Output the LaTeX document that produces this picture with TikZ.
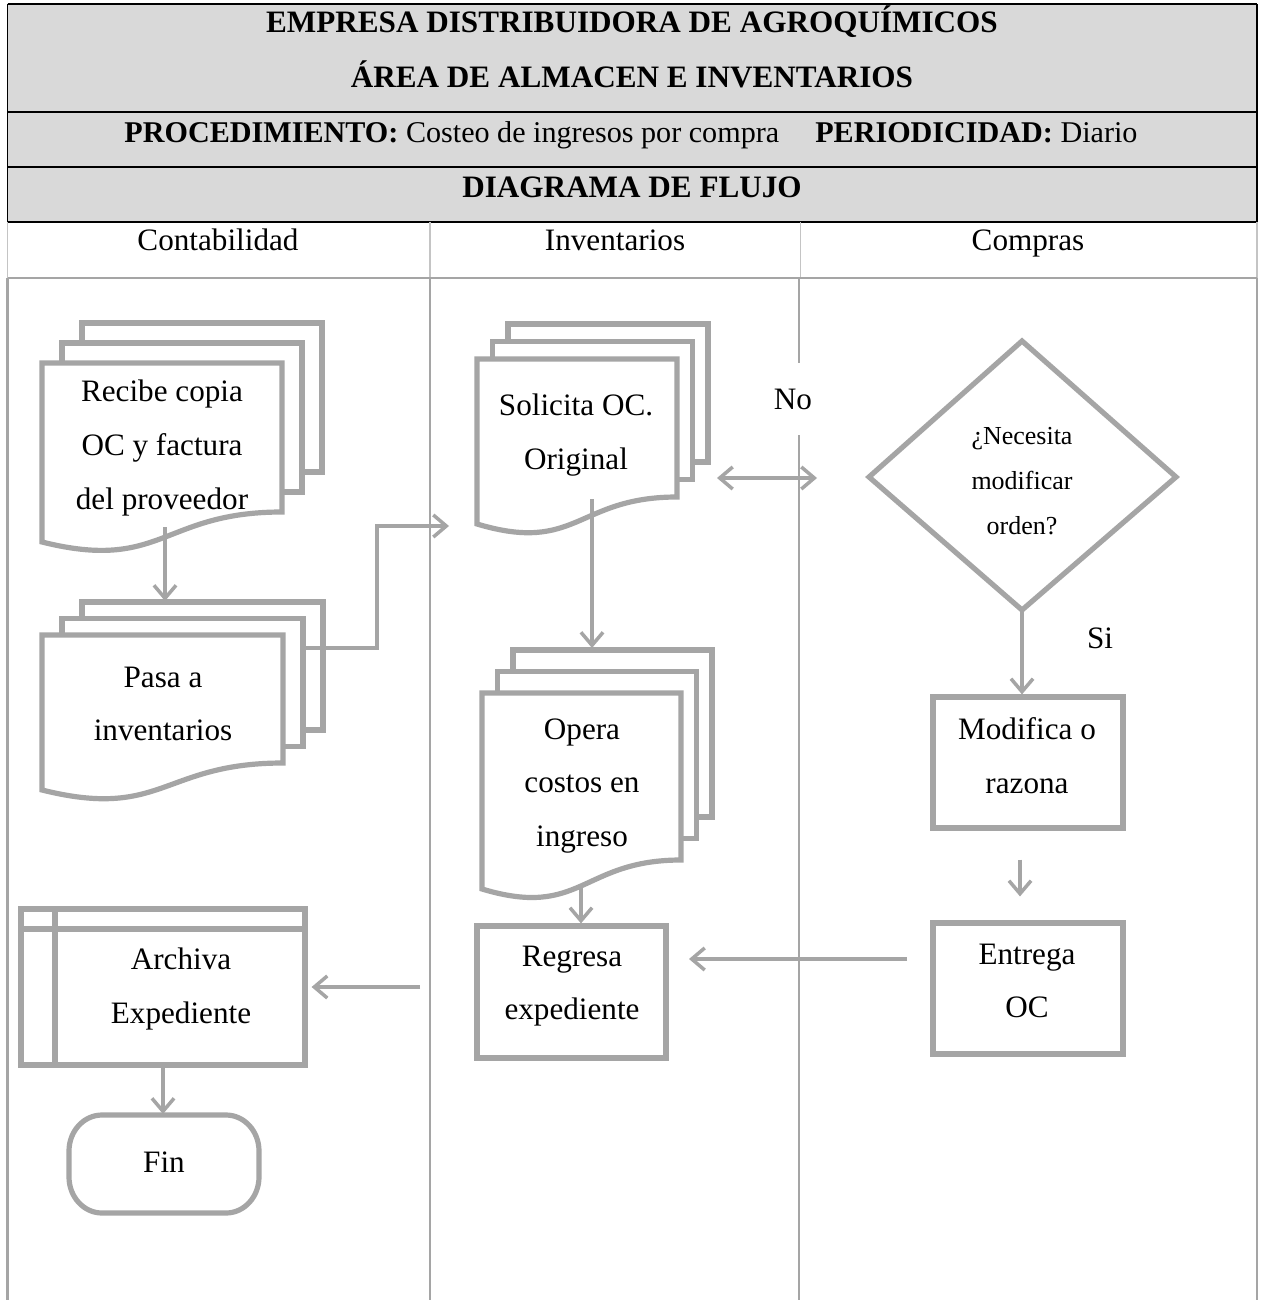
\documentclass[tikz,border=0pt]{standalone}
\usepackage{fontspec}
\setmainfont{Liberation Serif}
\usetikzlibrary{arrows.meta}

\definecolor{shapegray}{HTML}{A5A5A5}
\definecolor{headfill}{HTML}{D9D9D9}
\definecolor{lanelight}{HTML}{C4C4C4}

% one drawing unit in pt
\newcommand\pxu{0.385pt}

% stacked documents: left, top, right, right-bottom, left-bottom, dx, dy
\newcommand\multidoc[7]{%
  \draw[shapeline] (#1+2*#6, #2-#7) -- (#1+2*#6, #2-2*#7) -- (#3+2*#6, #2-2*#7)
        -- (#3+2*#6, #4-2*#7) -- (#3+#6, #4-2*#7);
  \draw[shapeline] (#1+#6, #2) -- (#1+#6, #2-#7) -- (#3+#6, #2-#7)
        -- (#3+#6, #4-#7) -- (#3, #4-#7);
  \draw[shapeline] (#1, #2) -- (#3, #2) -- (#3, #4)
        .. controls ({(#1+#3)/2}, #4) and ({(#1+#3)/2}, #5+30) .. (#1, #5) -- cycle;
}

\begin{document}
\begin{tikzpicture}[x=0.385pt, y=-0.385pt,
  shapeline/.style={draw=shapegray, line width=2pt, line join=miter},
  arr/.style={draw=shapegray, line width=1.35pt, -{Straight Barb[length=5pt,width=8.5pt]}},
  dbl/.style={draw=shapegray, line width=1.35pt,
    {Straight Barb[length=5pt,width=8.5pt]}-{Straight Barb[length=5pt,width=8.5pt]}},
  txt/.style={font=\fontsize{12}{20.7}\selectfont, align=center, inner sep=0pt},
  smalltxt/.style={font=\fontsize{10}{17.25}\selectfont, align=center, inner sep=0pt},
  headtxt/.style={font=\fontsize{12}{20.7}\selectfont, inner sep=0pt, anchor=base},
  headbold/.style={headtxt, font=\bfseries\fontsize{12}{20.7}\selectfont},
  procbox/.style={shapeline, rectangle, inner sep=0pt},
]
\useasboundingbox (0,0) rectangle (1260,1300);
\fill[white] (0,0) rectangle (1260,1300);

% ---- title block ----
\fill[headfill] (7.5,4) rectangle (1257,222);
\draw[black, line width=0.7pt] (7.5,4) -- (1257,4)
  (7.5,112) -- (1257,112) (7.5,167) -- (1257,167)
  (7.5,4) -- (7.5,222) (1257,4) -- (1257,222);
\draw[black, line width=0.5pt] (7.5,222) -- (1257,222);

\node[headbold] (empresa) at (632,33) {EMPRESA DISTRIBUIDORA DE AGROQUÍMICOS};
\node[headbold] (area) at (632,88) {ÁREA DE ALMACEN E INVENTARIOS};
\node[headtxt, font=\fontsize{11.6}{20.7}\selectfont] (proc) at (631,143) {\textbf{PROCEDIMIENTO:} Costeo de ingresos por compra\hspace{11pt} \textbf{PERIODICIDAD:} Diario};
\node[headbold] (diag) at (632,198) {DIAGRAMA DE FLUJO};

% ---- swimlanes ----
\draw[lanelight, line width=0.45pt] (7.5,222) -- (7.5,278) (430,222) -- (430,278)
  (800.5,222) -- (800.5,278) (1257,222) -- (1257,278);
\draw[shapegray, line width=0.8pt] (7.5,278) -- (1257,278)
  (7.5,278) -- (7.5,1300) (430,278) -- (430,1300)
  (799,278) -- (799,1300) (1257,278) -- (1257,1300);

\node[headtxt] (lane1) at (218,251) {Contabilidad};
\node[headtxt] (lane2) at (615,251) {Inventarios};
\node[headtxt] (lane3) at (1028,251) {Compras};

% ---- Contabilidad ----
\multidoc{42}{363}{282}{512}{542}{20}{20}
\node[txt] (recibe) at (162,448) {Recibe copia\\OC y factura\\del proveedor};

\multidoc{42}{635}{283}{763}{790}{20}{16.5}
\node[txt] (pasa) at (163,704) {Pasa a\\inventarios};

\node[procbox, minimum width=284*\pxu, minimum height=156*\pxu] (archiva) at (163,987) {};
\draw[shapeline] (21,929) -- (305,929) (55,909) -- (55,1065);
\node[txt] (archivat) at (181,989) {Archiva\\Expediente};

\draw[shapeline] (102,1115) -- (226,1115)
  arc[start angle=-90, end angle=0, x radius=33, y radius=36] -- (259,1177)
  arc[start angle=0, end angle=90, x radius=33, y radius=36] -- (102,1213)
  arc[start angle=90, end angle=180, x radius=33, y radius=36] -- (69,1151)
  arc[start angle=180, end angle=270, x radius=33, y radius=36] -- cycle;
\node[txt] (fin) at (164,1162) {Fin};

% ---- Inventarios ----
\multidoc{477}{359}{677}{497}{524}{15.5}{17.5}
\node[txt] (solicita) at (576,435) {Solicita OC.\\Original};

\multidoc{482}{693}{681}{860}{889}{15.5}{21.5}
\node[txt] (opera) at (582,786) {Opera\\costos en\\ingreso};

\node[procbox, minimum width=189*\pxu, minimum height=132*\pxu] (regresa) at (571.5,992) {};
\node[txt] (regresat) at (572,986) {Regresa\\expediente};

% ---- Compras ----
\coordinate (dtop) at (1022,341);
\coordinate (dright) at (1176,477);
\coordinate (dbot) at (1022,610);
\coordinate (dleft) at (869,477);
\draw[shapeline] (dtop) -- (dright) -- (dbot) -- (dleft) -- cycle;
\node[smalltxt] (pregunta) at (1022,481) {¿Necesita\\modificar\\orden?};

\node[procbox, minimum width=190*\pxu, minimum height=131*\pxu] (modifica) at (1028,762.5) {};
\node[txt] (modificat) at (1027,756) {Modifica o\\razona};

\node[procbox, minimum width=190*\pxu, minimum height=131*\pxu] (entrega) at (1028,988.5) {};
\node[txt] (entregat) at (1027,981) {Entrega\\OC};

\node[txt, fill=white, inner xsep=3pt, minimum height=72*\pxu] (no) at (793,399) {No};
\node[txt] (si) at (1100,638) {Si};

% ---- connector end points ----
\coordinate (d1out) at (165,527);
\coordinate (d2in) at (165,601);
\coordinate (d2out) at (303,648);
\coordinate (d3in) at (449,526);
\coordinate (d3out) at (592,499);
\coordinate (d4in) at (592,648);
\coordinate (d3side) at (717,478);
\coordinate (nolink) at (817,478);
\coordinate (d4out) at (581,888);
\coordinate (e2ra) at (907,959);
\coordinate (e2rb) at (689,959);
\coordinate (r2aa) at (420,987);
\coordinate (fintop) at (163,1114);

% ---- connectors ----
\draw[arr] (d1out) -- (d2in);
\draw[arr] (d2out) -- ++(74,0) |- (d3in);
\draw[arr] (d3out) -- (d4in);
\draw[dbl] (d3side) -- (nolink);
\draw[arr] (d4out) -- (d4out |- regresa.north);
\draw[arr] (dbot) -- (dbot |- modifica.north);
\draw[arr] ([shift={(-8,29)}]modifica.south) -- ([shift={(-8,-24)}]entrega.north);
\draw[arr] (e2ra) -- (e2rb);
\draw[arr] (r2aa) -- ([shift={(4,0)}]archiva.east);
\draw[arr] (archiva.south) -- (fintop);
\end{tikzpicture}
\end{document}
